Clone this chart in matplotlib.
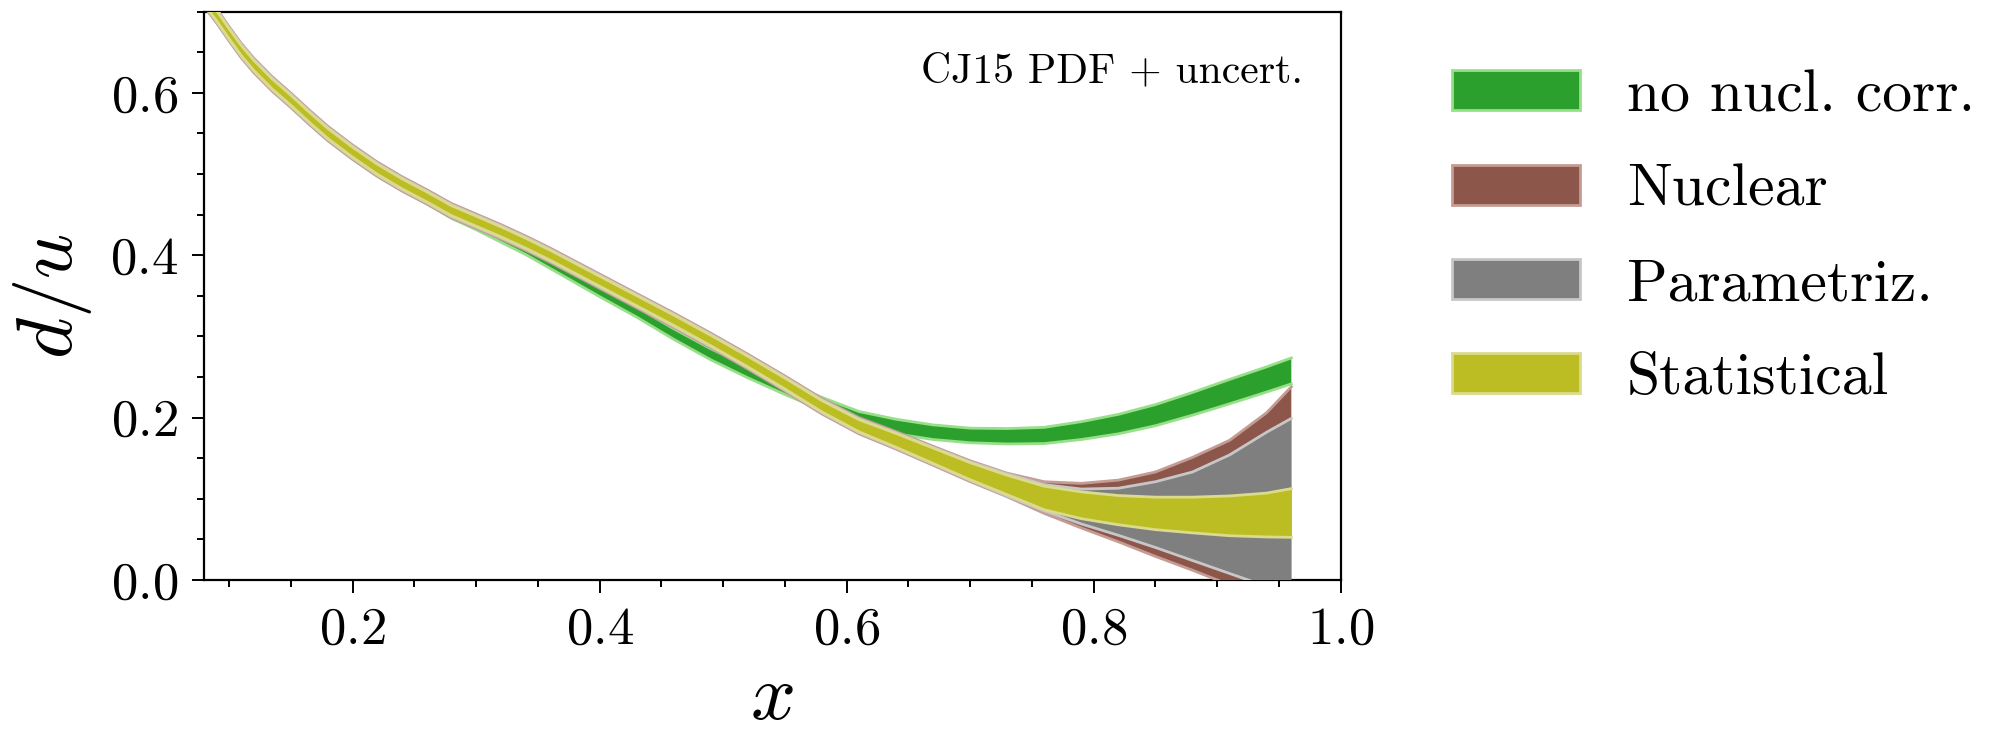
"""d/u ratio with CJ15 PDF uncertainty bands (stat / param / nuclear) vs no nucl. corr."""
import numpy as np
import matplotlib
matplotlib.use('Agg')
import matplotlib.pyplot as plt
from matplotlib.patches import Patch
from matplotlib.ticker import MultipleLocator

plt.rcParams.update({
    'font.family': 'serif',
    'font.serif': ['cmr10'],
    'mathtext.fontset': 'cm',
    'axes.unicode_minus': False,
    'axes.formatter.use_mathtext': True,
})

# ── data ─────────────────────────────────────────────────────────────
x = np.array([0.08, 0.09, 0.10, 0.11, 0.12, 0.135, 0.15, 0.165, 0.18, 0.20,
              0.22, 0.24, 0.26, 0.28, 0.30, 0.32, 0.34, 0.36, 0.38, 0.40,
              0.43, 0.46, 0.49, 0.52, 0.55, 0.58, 0.61, 0.64, 0.67, 0.70,
              0.73, 0.76, 0.79, 0.82, 0.85, 0.88, 0.91, 0.94, 0.96])

# CJ15 central d/u
cj15 = np.array([0.715, 0.695, 0.673, 0.652, 0.634, 0.611, 0.591, 0.570, 0.550, 0.527,
                 0.506, 0.488, 0.472, 0.455, 0.442, 0.429, 0.415, 0.400, 0.384, 0.368,
                 0.344, 0.320, 0.295, 0.269, 0.242, 0.214, 0.190, 0.172, 0.153, 0.134,
                 0.117, 0.101, 0.092, 0.086, 0.082, 0.080, 0.079, 0.080, 0.0825])

# statistical (symmetric)
err_stat = np.array([0.0062] * 20 +
                    [0.0063, 0.0064, 0.0065, 0.0066, 0.0068, 0.0070, 0.0075, 0.0085, 0.0095, 0.0105,
                     0.0120, 0.0145, 0.0165, 0.0180, 0.0200, 0.0220, 0.0245, 0.0270, 0.0300])

# stat + parametrization
err_par_up = np.array([0.0072] * 20 +
                      [0.0072, 0.0073, 0.0074, 0.0075, 0.0077, 0.0079, 0.0084, 0.0093, 0.0102, 0.0113,
                       0.0135, 0.0165, 0.0200, 0.0270, 0.0390, 0.0530, 0.0750, 0.1020, 0.1165])
err_par_dn = np.array([0.0072] * 20 +
                      [0.0072, 0.0073, 0.0074, 0.0075, 0.0077, 0.0079, 0.0084, 0.0093, 0.0102, 0.0113,
                       0.0135, 0.0160, 0.0230, 0.0310, 0.0420, 0.0560, 0.0710, 0.0880, 0.1045])

# stat + param + nuclear
err_nuc_up = np.array([0.0088] * 20 +
                      [0.0088, 0.0089, 0.0090, 0.0091, 0.0093, 0.0095, 0.0100, 0.0108, 0.0117, 0.0128,
                       0.0145, 0.0200, 0.0270, 0.0370, 0.0510, 0.0710, 0.0930, 0.1260, 0.1555])
err_nuc_dn = np.array([0.0088] * 20 +
                      [0.0088, 0.0089, 0.0090, 0.0091, 0.0093, 0.0095, 0.0100, 0.0108, 0.0117, 0.0128,
                       0.0145, 0.0190, 0.0280, 0.0390, 0.0530, 0.0680, 0.0850, 0.1040, 0.1185])

# fit without nuclear corrections
nonuc = np.array([0.711, 0.691, 0.669, 0.648, 0.630, 0.607, 0.587, 0.566, 0.546, 0.523,
                  0.502, 0.484, 0.468, 0.450, 0.436, 0.421, 0.406, 0.389, 0.372, 0.355,
                  0.330, 0.303, 0.278, 0.256, 0.236, 0.217, 0.199, 0.189, 0.182, 0.178,
                  0.177, 0.178, 0.184, 0.192, 0.203, 0.217, 0.232, 0.247, 0.2575])
err_nonuc = np.array([0.0045] * 15 +
                     [0.0048, 0.0050, 0.0053, 0.0056, 0.0060,
                      0.0062, 0.0065, 0.0068, 0.0070, 0.0075, 0.0080, 0.0085, 0.0090, 0.0090, 0.0090,
                      0.0095, 0.0100, 0.0110, 0.0120, 0.0130, 0.0140, 0.0150, 0.0155, 0.0160])

labels = ['no nucl. corr.', 'Nuclear', 'Parametriz.', 'Statistical']
faces = ['#2ca02c', '#8c564b', '#7f7f7f', '#bcbd22']
edges = ['#98df8a', '#c49c94', '#c7c7c7', '#dbdb8d']
EDGE_LW = 2.0

fig = plt.figure(figsize=(19.91, 7.39), dpi=100)
ax = fig.add_axes([0.1026, 0.2152, 0.5708, 0.769])


def band(lo, hi, face, edge, z):
    ax.fill_between(x, lo, hi, facecolor=face, edgecolor='none', lw=0, zorder=z)
    ax.plot(x, lo, color=edge, lw=EDGE_LW, zorder=z + 0.1)
    ax.plot(x, hi, color=edge, lw=EDGE_LW, zorder=z + 0.1)


band(nonuc - err_nonuc, nonuc + err_nonuc, faces[0], edges[0], 2)
band(cj15 - err_nuc_dn, cj15 + err_nuc_up, faces[1], edges[1], 3)
band(cj15 - err_par_dn, cj15 + err_par_up, faces[2], edges[2], 4)
band(cj15 - err_stat, cj15 + err_stat, faces[3], edges[3], 5)

ax.text(0.967, 0.875, 'CJ15 PDF + uncert.', transform=ax.transAxes,
        ha='right', va='baseline', fontsize=30)

ax.set_xlim(0.08, 1.0)
ax.set_ylim(0.0, 0.7)
ax.xaxis.set_major_locator(MultipleLocator(0.2))
ax.xaxis.set_minor_locator(MultipleLocator(0.05))
ax.yaxis.set_major_locator(MultipleLocator(0.2))
ax.yaxis.set_minor_locator(MultipleLocator(0.05))
ax.tick_params(which='both', direction='out', top=False, right=False,
               labelsize=38, width=1.4, pad=10)
ax.tick_params(which='major', length=9)
ax.tick_params(which='minor', length=5)
for sp in ax.spines.values():
    sp.set_linewidth(1.6)

fig.text(0.0266, 0.5997, r'$d/u$', rotation=90, ha='center', va='center', fontsize=57)
fig.text(0.3878, 0.027, r'$x$', ha='center', va='baseline', fontsize=57)

handles = [Patch(facecolor=f, edgecolor=e, lw=EDGE_LW) for f, e in zip(faces, edges)]
fig.legend(handles, labels, loc='center left', bbox_to_anchor=(0.7293, 0.678),
           frameon=False, fontsize=43, handlelength=2.15, handleheight=0.65,
           handletextpad=0.78, labelspacing=0.68, borderpad=0, borderaxespad=0)

fig.savefig('out.png', dpi=100)
